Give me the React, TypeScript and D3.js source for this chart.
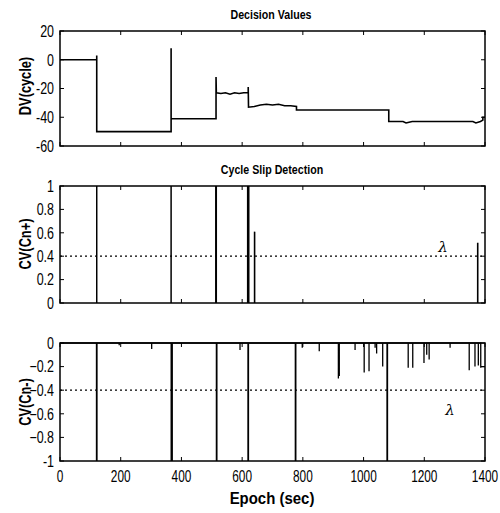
import React from "react";
import * as d3 from "d3";

// ---- data ----
const xTicks = [0, 200, 400, 600, 800, 1000, 1200, 1400];
const dvTicks = [20, 0, -20, -40, -60];
const cnPlusTicks = [0, 0.2, 0.4, 0.6, 0.8, 1];
const cnMinusTicks = [0, -0.2, -0.4, -0.6, -0.8, -1];

const dvEpochs = [0, 121, 121, 121, 366, 366, 366, 514, 514, 515, 530, 545, 560, 575, 590, 605, 620, 620, 621, 640, 660, 680, 700, 720, 740, 760, 779, 779, 900, 1000, 1083, 1083, 1130, 1140, 1160, 1300, 1360, 1370, 1385, 1393, 1393, 1400];
const dvValues = [0, 0, 3, -50, -50, 8, -41, -41, -12, -23, -23.5, -23, -24, -23, -23.5, -23, -23, -19, -33, -32.5, -31.5, -31, -31.5, -31, -32, -32, -32.5, -35, -35, -35, -35, -43, -43, -44, -43, -43, -43, -44, -43, -42, -40, -40];

const cnPlusEpochs = [121, 366, 514, 620, 641, 1376];
const cnPlusValues = [1, 1, 1, 1, 0.61, 0.515];
const cnPlusWidths = [1.5, 1.5, 2, 2.6, 1.6, 1.6];

const cnMinusFullEpochs = [121, 368, 516, 620, 776, 1078];
const cnMinusSpikeEpochs = [195, 302, 593, 798, 854, 917, 920, 972, 1002, 1018, 1038, 1043, 1063, 1147, 1162, 1199, 1208, 1216, 1285, 1348, 1367, 1378, 1386];
const cnMinusSpikeValues = [-0.02, -0.05, -0.06, -0.04, -0.07, -0.3, -0.28, -0.06, -0.25, -0.24, -0.04, -0.09, -0.2, -0.21, -0.21, -0.17, -0.1, -0.14, -0.04, -0.23, -0.2, -0.19, -0.21];
const cnMinusTailValue = -0.2;

const lambda = 0.4;

const W = 500;
const H = 513;
const X0 = 60;
const X1 = 485;

const font = "'Liberation Sans', Arial, sans-serif";

const x = d3.scaleLinear().domain([0, 1400]).range([X0, X1]);

function T({ x, y, sx = 0.8, rot = 0, anchor = "middle", size = 16, bold = false, dy, children }: any) {
  return (
    <text
      transform={`translate(${x},${y}) rotate(${rot}) scale(${sx},1)`}
      textAnchor={anchor}
      dy={dy}
      fontFamily={font}
      fontSize={size}
      fontWeight={bold ? "bold" : "normal"}
    >
      {children}
    </text>
  );
}

function Frame({ y, yTicks, fmt, showX }: any) {
  const [yb, yt] = y.range();
  return (
    <g>
      <rect x={X0} y={yt} width={X1 - X0} height={yb - yt} fill="none" stroke="#000" strokeWidth={1.5} />
      {yTicks.map((t: number) => (
        <g key={"y" + t}>
          <line x1={X0} x2={X0 + 4} y1={y(t)} y2={y(t)} stroke="#000" strokeWidth={1} />
          <line x1={X1} x2={X1 - 4} y1={y(t)} y2={y(t)} stroke="#000" strokeWidth={1} />
          <T x={54} y={y(t)} dy="0.36em" anchor="end" sx={0.78}>
            {fmt(t)}
          </T>
        </g>
      ))}
      {xTicks.map((t) => (
        <g key={"x" + t}>
          <line x1={x(t)} x2={x(t)} y1={yb} y2={yb - 4} stroke="#000" strokeWidth={1} />
          <line x1={x(t)} x2={x(t)} y1={yt} y2={yt + 4} stroke="#000" strokeWidth={1} />
          {showX && (
            <T x={x(t)} y={yb + 21} sx={0.74}>
              {t}
            </T>
          )}
        </g>
      ))}
    </g>
  );
}

export default function App() {
  const y1 = d3.scaleLinear().domain([-60, 20]).range([146, 31]);
  const y2 = d3.scaleLinear().domain([0, 1]).range([303, 186]);
  const y3 = d3.scaleLinear().domain([-1, 0]).range([461, 343]);

  const dvLine = d3
    .line<number>()
    .x((_, i) => x(dvEpochs[i]))
    .y((v) => y1(v));

  // bottom series: zero baseline with downward spikes
  const pts: [number, number][] = [[0, 0]];
  cnMinusSpikeEpochs.forEach((e, i) => {
    pts.push([e, 0], [e, cnMinusSpikeValues[i]], [e, 0]);
  });
  const lastE = cnMinusSpikeEpochs[cnMinusSpikeEpochs.length - 1];
  pts.pop();
  pts.push([lastE, cnMinusTailValue], [1400, cnMinusTailValue]);
  const minusLine = d3
    .line<[number, number]>()
    .x((d) => x(d[0]))
    .y((d) => y3(d[1]));

  const fmt1 = (t: number) => String(t);
  const fmt2 = (t: number) => (t === 0 || t === 1 || t === -1 ? String(t) : d3.format(".1f")(t));

  return (
    <svg width={W} height={H} style={{ position: "absolute", left: 0, top: 0, background: "#fff" }}>
      <rect width={W} height={H} fill="#fff" />
      {/* titles */}
      <T x={271} y={19} size={13} bold sx={0.82}>
        Decision Values
      </T>
      <T x={272} y={174} size={13} bold sx={0.82}>
        Cycle Slip Detection
      </T>

      {/* panel 1 */}
      <path d={dvLine(dvValues) || ""} fill="none" stroke="#000" strokeWidth={1.6} />
      <Frame y={y1} yTicks={dvTicks} fmt={fmt1} showX={false} />
      <T x={31} y={86} rot={-90} size={16} bold sx={0.8}>
        DV(cycle)
      </T>

      {/* panel 2 */}
      <line x1={X0} x2={X1} y1={y2(lambda)} y2={y2(lambda)} stroke="#000" strokeWidth={1.2} strokeDasharray="2,3" />
      {cnPlusEpochs.map((e, i) => (
        <line key={i} x1={x(e)} x2={x(e)} y1={y2(0)} y2={y2(cnPlusValues[i])} stroke="#000" strokeWidth={cnPlusWidths[i]} />
      ))}
      <Frame y={y2} yTicks={cnPlusTicks} fmt={fmt2} showX={false} />
      <text x={443} y={y2(0.44)} textAnchor="middle" fontFamily="'DejaVu Serif', serif" fontStyle="italic" fontSize={15}>
        λ
      </text>
      <T x={31} y={244} rot={-90} size={16} bold sx={0.8}>
        CV(Cn+)
      </T>

      {/* panel 3 */}
      <line x1={X0} x2={X1} y1={y3(-lambda)} y2={y3(-lambda)} stroke="#000" strokeWidth={1.2} strokeDasharray="2,3" />
      <path d={minusLine(pts) || ""} fill="none" stroke="#000" strokeWidth={1.3} />
      {cnMinusFullEpochs.map((e, i) => (
        <line key={i} x1={x(e)} x2={x(e)} y1={y3(0)} y2={y3(-1)} stroke="#000" strokeWidth={i === 1 ? 2.4 : 1.8} />
      ))}
      <Frame y={y3} yTicks={cnMinusTicks} fmt={fmt2} showX={true} />
      <text x={450} y={y3(-0.5) + 13} textAnchor="middle" fontFamily="'DejaVu Serif', serif" fontStyle="italic" fontSize={15}>
        λ
      </text>
      <T x={31} y={402} rot={-90} size={16} bold sx={0.8}>
        CV(Cn-)
      </T>
      <T x={272} y={504} size={17} bold sx={0.88}>
        Epoch (sec)
      </T>
    </svg>
  );
}
